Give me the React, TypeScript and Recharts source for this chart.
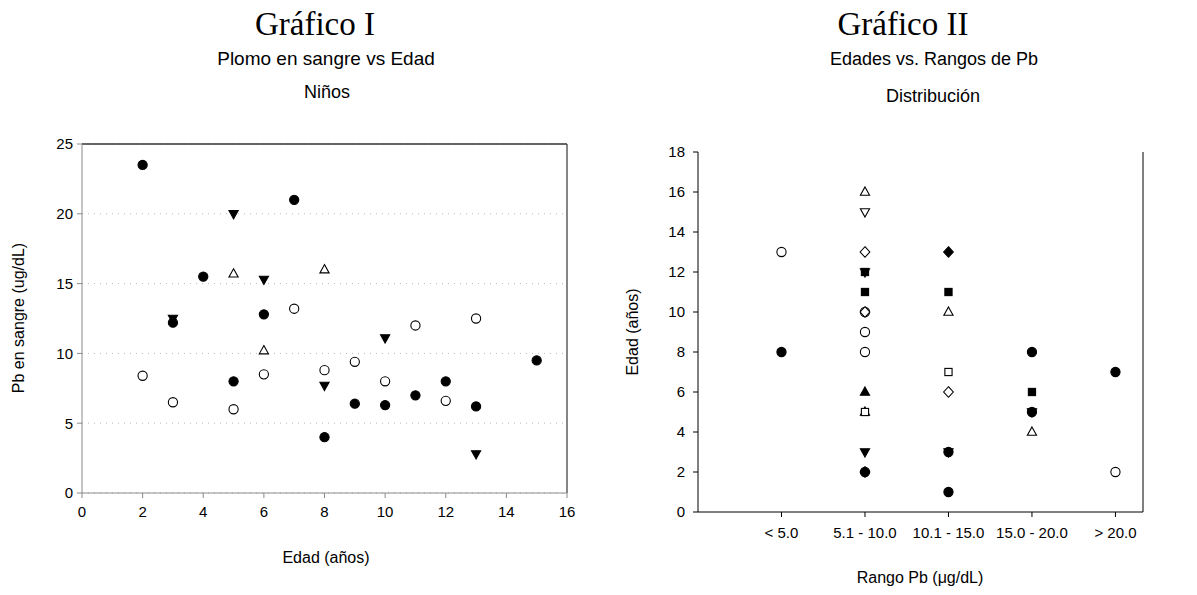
import React from 'react';
import {
  ScatterChart,
  Scatter,
  XAxis,
  YAxis,
  CartesianGrid,
  ReferenceLine,
} from 'recharts';

// Gráfico I: Plomo en sangre vs Edad (niños)
const edadTicks = [0, 2, 4, 6, 8, 10, 12, 14, 16];
const pbTicks = [0, 5, 10, 15, 20, 25];

const circulosLlenos = [
  { edad: 2, pb: 23.5 },
  { edad: 3, pb: 12.2 },
  { edad: 4, pb: 15.5 },
  { edad: 5, pb: 8.0 },
  { edad: 6, pb: 12.8 },
  { edad: 7, pb: 21.0 },
  { edad: 8, pb: 4.0 },
  { edad: 9, pb: 6.4 },
  { edad: 10, pb: 6.3 },
  { edad: 11, pb: 7.0 },
  { edad: 12, pb: 8.0 },
  { edad: 13, pb: 6.2 },
  { edad: 15, pb: 9.5 },
];
const circulosVacios = [
  { edad: 2, pb: 8.4 },
  { edad: 3, pb: 6.5 },
  { edad: 5, pb: 6.0 },
  { edad: 6, pb: 8.5 },
  { edad: 7, pb: 13.2 },
  { edad: 8, pb: 8.8 },
  { edad: 9, pb: 9.4 },
  { edad: 10, pb: 8.0 },
  { edad: 11, pb: 12.0 },
  { edad: 12, pb: 6.6 },
  { edad: 13, pb: 12.5 },
];
const triangulosAbajo = [
  { edad: 3, pb: 12.5 },
  { edad: 5, pb: 20.0 },
  { edad: 6, pb: 15.3 },
  { edad: 8, pb: 7.7 },
  { edad: 10, pb: 11.1 },
  { edad: 13, pb: 2.8 },
];
const triangulosArriba = [
  { edad: 5, pb: 15.7 },
  { edad: 6, pb: 10.2 },
  { edad: 8, pb: 16.0 },
];

// Gráfico II: Edades vs. Rangos de Pb
const rangos = ['< 5.0', '5.1 - 10.0', '10.1 - 15.0', '15.0 - 20.0', '> 20.0'];
const rangoTicks = [1, 2, 3, 4, 5];
const edadRangoTicks = [0, 2, 4, 6, 8, 10, 12, 14, 16, 18];

const dCirculoLleno = [
  { rango: 1, edad: 8 },
  { rango: 2, edad: 2 },
  { rango: 3, edad: 3 },
  { rango: 3, edad: 1 },
  { rango: 4, edad: 8 },
  { rango: 4, edad: 5 },
  { rango: 5, edad: 7 },
];
const dCirculoVacio = [
  { rango: 1, edad: 13 },
  { rango: 2, edad: 10 },
  { rango: 2, edad: 9 },
  { rango: 2, edad: 8 },
  { rango: 5, edad: 2 },
];
const dTrianguloLleno = [{ rango: 2, edad: 6 }];
const dTrianguloVacio = [
  { rango: 2, edad: 16 },
  { rango: 2, edad: 5 },
  { rango: 3, edad: 10 },
  { rango: 4, edad: 4 },
];
const dTrianguloAbajoLleno = [
  { rango: 2, edad: 12 },
  { rango: 2, edad: 3 },
  { rango: 3, edad: 3 },
  { rango: 4, edad: 5 },
];
const dTrianguloAbajoVacio = [{ rango: 2, edad: 15 }];
const dCuadradoLleno = [
  { rango: 2, edad: 12 },
  { rango: 2, edad: 11 },
  { rango: 3, edad: 11 },
  { rango: 4, edad: 6 },
];
const dCuadradoVacio = [
  { rango: 2, edad: 5 },
  { rango: 3, edad: 7 },
];
const dRomboLleno = [
  { rango: 2, edad: 2 },
  { rango: 3, edad: 13 },
];
const dRomboVacio = [
  { rango: 2, edad: 13 },
  { rango: 2, edad: 10 },
  { rango: 3, edad: 6 },
];

const SANS = 'Arial, "Liberation Sans", Helvetica, sans-serif';
const SERIF = '"Times New Roman", "Liberation Serif", serif';

type Kind = 'circle' | 'triUp' | 'triDown' | 'square' | 'diamond';

const marker = (kind: Kind, filled: boolean, r = 4.6) => (props: any) => {
  const { cx, cy } = props;
  if (cx == null || cy == null) return <g />;
  const fill = filled ? '#000' : '#fff';
  const common = { fill, stroke: '#000', strokeWidth: 1.1 };
  switch (kind) {
    case 'circle':
      return <circle cx={cx} cy={cy} r={r} {...common} />;
    case 'square':
      return <rect x={cx - r * 0.9} y={cy - r * 0.9} width={r * 1.8} height={r * 1.8} {...common} />;
    case 'diamond':
      return (
        <polygon
          points={`${cx},${cy - r * 1.15} ${cx + r * 1.05},${cy} ${cx},${cy + r * 1.15} ${cx - r * 1.05},${cy}`}
          {...common}
        />
      );
    case 'triUp':
      return (
        <polygon
          points={`${cx},${cy - r * 1.1} ${cx + r},${cy + r * 0.7} ${cx - r},${cy + r * 0.7}`}
          {...common}
        />
      );
    default:
      return (
        <polygon
          points={`${cx},${cy + r * 1.1} ${cx + r},${cy - r * 0.7} ${cx - r},${cy - r * 0.7}`}
          {...common}
        />
      );
  }
};

const Txt = ({
  x,
  y,
  size,
  font = SANS,
  rotate = false,
  children,
}: {
  x: number;
  y: number;
  size: number;
  font?: string;
  rotate?: boolean;
  children: React.ReactNode;
}) => (
  <div
    style={{
      position: 'absolute',
      left: x,
      top: y,
      fontFamily: font,
      fontSize: size,
      whiteSpace: 'nowrap',
      color: '#000',
      lineHeight: 1,
      transform: `translate(-50%, -50%)${rotate ? ' rotate(-90deg)' : ''}`,
    }}
  >
    {children}
  </div>
);

const tickStyle = { fontFamily: SANS, fontSize: 15, fill: '#000' };

export default function App() {
  return (
    <div
      style={{
        position: 'absolute',
        left: 0,
        top: 0,
        width: 1197,
        height: 595,
        background: '#fff',
        overflow: 'hidden',
      }}
    >
      {/* Gráfico I */}
      <Txt x={315} y={24} size={33} font={SERIF}>Gráfico I</Txt>
      <Txt x={326} y={58} size={19}>Plomo en sangre vs Edad</Txt>
      <Txt x={327} y={92} size={18}>Niños</Txt>
      <Txt x={326} y={558} size={16}>Edad (años)</Txt>
      <Txt x={19} y={318} size={16} rotate>Pb en sangre (ug/dL)</Txt>

      <div style={{ position: 'absolute', left: 0, top: 0 }}>
        <ScatterChart
          width={600}
          height={595}
          margin={{ top: 144, right: 33, bottom: 72, left: 22 }}
        >
          <CartesianGrid
            horizontal
            vertical={false}
            stroke='#b8b8b8'
            strokeDasharray='1 5'
          />
          <XAxis
            type='number'
            dataKey='edad'
            domain={[0, 16]}
            ticks={edadTicks}
            height={30}
            tickSize={5}
            tickMargin={8}
            stroke='#8a8a8a'
            tick={tickStyle}
            allowDataOverflow
          />
          <YAxis
            type='number'
            dataKey='pb'
            domain={[0, 25]}
            ticks={pbTicks}
            width={60}
            tickSize={5}
            tickMargin={4}
            stroke='#8a8a8a'
            tick={tickStyle}
            allowDataOverflow
          />
          <ReferenceLine y={25} stroke='#333' strokeWidth={1.3} />
          <ReferenceLine x={16} stroke='#444' strokeWidth={1.3} />
          <Scatter data={circulosVacios} shape={marker('circle', false)} isAnimationActive={false} />
          <Scatter data={triangulosArriba} shape={marker('triUp', false)} isAnimationActive={false} />
          <Scatter data={triangulosAbajo} shape={marker('triDown', true)} isAnimationActive={false} />
          <Scatter data={circulosLlenos} shape={marker('circle', true)} isAnimationActive={false} />
        </ScatterChart>
      </div>

      {/* Gráfico II */}
      <Txt x={903} y={24} size={33} font={SERIF}>Gráfico II</Txt>
      <Txt x={934} y={59} size={18}>Edades vs. Rangos de Pb</Txt>
      <Txt x={933} y={96} size={18}>Distribución</Txt>
      <Txt x={920} y={578} size={16}>Rango Pb (μg/dL)</Txt>
      <Txt x={633} y={332} size={16} rotate>Edad (años)</Txt>

      <div style={{ position: 'absolute', left: 600, top: 0 }}>
        <ScatterChart
          width={597}
          height={595}
          margin={{ top: 152, right: 54, bottom: 53, left: 38 }}
        >
          <XAxis
            type='number'
            dataKey='rango'
            domain={[0, 5.33]}
            ticks={rangoTicks}
            tickFormatter={(v: number) => rangos[v - 1] ?? ''}
            height={30}
            tickSize={5}
            tickMargin={10}
            stroke='#000'
            tick={tickStyle}
            allowDataOverflow
          />
          <YAxis
            type='number'
            dataKey='edad'
            domain={[0, 18]}
            ticks={edadRangoTicks}
            width={60}
            tickSize={5}
            tickMargin={8}
            stroke='#000'
            tick={tickStyle}
            allowDataOverflow
          />
          <ReferenceLine x={5.33} stroke='#000' />
          <Scatter data={dCirculoVacio} shape={marker('circle', false)} isAnimationActive={false} />
          <Scatter data={dTrianguloVacio} shape={marker('triUp', false)} isAnimationActive={false} />
          <Scatter data={dCuadradoVacio} shape={marker('square', false, 4)} isAnimationActive={false} />
          <Scatter data={dTrianguloAbajoVacio} shape={marker('triDown', false)} isAnimationActive={false} />
          <Scatter data={dRomboVacio} shape={marker('diamond', false)} isAnimationActive={false} />
          <Scatter data={dCirculoLleno} shape={marker('circle', true)} isAnimationActive={false} />
          <Scatter data={dTrianguloLleno} shape={marker('triUp', true)} isAnimationActive={false} />
          <Scatter data={dTrianguloAbajoLleno} shape={marker('triDown', true)} isAnimationActive={false} />
          <Scatter data={dCuadradoLleno} shape={marker('square', true, 4)} isAnimationActive={false} />
          <Scatter data={dRomboLleno} shape={marker('diamond', true)} isAnimationActive={false} />
        </ScatterChart>
      </div>
    </div>
  );
}
